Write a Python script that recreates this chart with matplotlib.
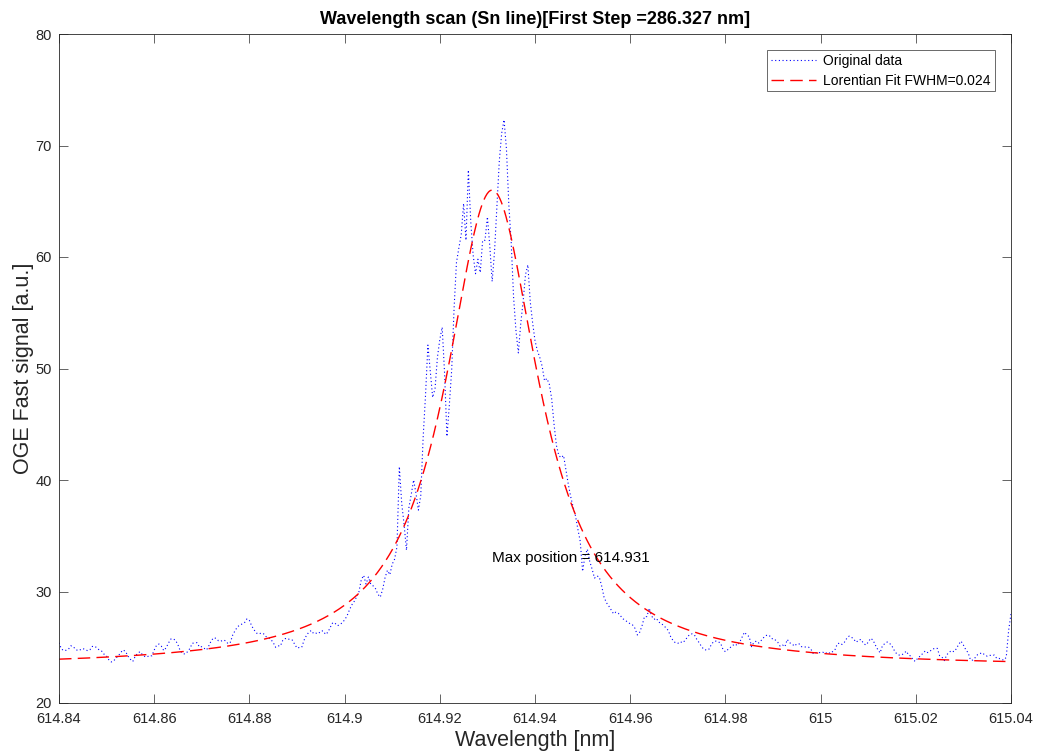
import numpy as np
import matplotlib
matplotlib.use("Agg")
import matplotlib.pyplot as plt

plt.rcParams['font.family'] = ['Liberation Sans', 'DejaVu Sans']

# Scan grid: 614.84 nm to 615.04 nm in 0.0005 nm steps
scan_start = 614.84
scan_step = 0.0005

# OGE fast signal [a.u.], left wing of the line
signal_wing_left = [
    25.4, 24.85, 24.7, 24.73, 24.83, 25.13, 25.05, 24.8, 24.7, 24.78,
    24.88, 24.8, 24.69, 24.78, 25.07, 25.09, 24.93, 24.73, 24.64, 24.36,
    24.2, 23.85, 23.68, 23.78, 24.05, 24.25, 24.55, 24.76, 24.6, 24.2,
    23.92, 23.72, 24.17, 24.45, 24.6, 24.35, 24.18, 24.13, 24.27, 24.23,
    24.75, 25.18, 25.29, 25.1, 24.7, 24.95, 25.38, 25.74, 25.75, 25.62,
    25.2, 24.65, 24.43, 24.39, 24.6, 24.89, 25.35, 25.4, 25.41, 25.02,
    25.05, 24.9, 24.76, 25.15, 25.6, 25.85, 25.8, 25.58, 25.54, 25.65,
    25.58, 25.32, 25.45, 26.1, 26.5, 26.83, 27.0, 27.09, 27.22, 27.55,
    27.4, 26.9, 26.55, 26.27, 26.19, 26.28, 26.2, 25.95, 25.88, 25.7,
    25.43, 25.0, 25.13, 25.11, 25.6, 25.77, 25.8, 25.67, 25.65, 25.28,
    24.93, 24.98, 25.0, 25.65, 26.07, 26.36, 26.5, 26.22, 26.26, 26.22,
    26.45, 26.47, 26.15, 26.35, 26.8, 27.2, 27.15, 26.93, 27.03, 27.2,
    27.45, 27.8, 28.33, 28.79, 29.1, 29.5, 29.95, 31.05, 31.45, 30.67,
    31.3, 30.65, 30.5, 30.25, 29.75, 29.5, 30.2, 31.25, 31.9, 31.5,
    32.45,
]

# Line core
signal_core = [
    32.9, 34.0, 41.2, 37.9, 36.0, 33.7, 37.5, 38.7, 40.0, 38.8,
    37.3, 38.6, 43.8, 47.6, 52.1, 49.7, 47.4, 48.2, 51.0, 52.6,
    53.7, 49.6, 43.9, 46.7, 49.9, 55.4, 59.5, 60.8, 62.0, 64.8,
    61.5, 67.8, 63.2, 60.2, 58.5, 59.8, 58.6, 61.5, 61.5, 63.6,
    61.0, 57.8, 60.5, 64.6, 68.6, 71.1, 72.3, 69.7, 64.7, 61.3,
    56.4, 53.4, 51.4, 54.0, 56.0, 58.4, 59.3, 56.0, 54.1, 52.5,
    51.6, 51.0, 50.2, 48.9, 49.1, 48.6, 47.3, 45.0, 43.1, 42.2,
    42.0, 42.2, 40.9, 39.6, 38.5, 37.6, 36.8, 35.6, 34.5, 31.8,
    33.2, 33.8, 32.7, 32.0, 31.2, 31.4, 31.3, 30.5, 29.5, 29.0,
    28.7, 28.35, 28.0,
]

# Right wing of the line
signal_wing_right = [
    28.15, 28.05, 27.8, 27.55, 27.4, 27.25, 27.1,
    27.0, 26.7, 26.1, 26.35, 26.95, 27.75, 27.75, 28.5, 27.8, 27.5,
    27.6, 27.25, 27.15, 26.95, 26.75, 26.5, 25.95, 25.6, 25.4, 25.35,
    25.5, 25.4, 25.6, 25.9, 26.15, 26.2, 26.1, 25.7, 25.4, 25.05,
    24.8, 24.75, 24.8, 25.2, 25.5, 25.55, 25.5, 25.35, 24.8, 24.6,
    24.78, 24.95, 25.15, 25.3, 25.15, 25.45, 25.9, 26.35, 26.1, 25.95,
    25.05, 25.45, 25.55, 25.38, 25.6, 25.85, 26.05, 26.1, 25.95, 25.68,
    25.65, 25.45, 25.1, 25.2, 25.05, 25.7, 25.4, 25.3, 25.1, 25.3,
    25.3, 25.05, 25.05, 25.0, 25.0, 24.8, 24.4, 24.52, 24.55, 24.5,
    24.55, 24.43, 24.57, 24.45, 24.6, 24.75, 25.3, 25.38, 25.25, 25.45,
    25.8, 26.0, 25.9, 25.7, 25.45, 25.65, 25.7, 25.35, 25.2, 25.45,
    25.8, 25.65, 25.2, 24.8, 24.5, 25.15, 25.33, 25.47, 25.35, 25.1,
    24.7, 24.4, 24.3, 24.3, 24.45, 24.65, 24.3, 24.2, 23.8, 23.75,
    24.1, 24.2, 24.48, 24.67, 24.52, 24.65, 24.83, 24.9, 24.9, 24.25,
    24.12, 23.8, 24.32, 24.55, 24.7, 24.6, 24.85, 25.25, 25.55, 25.2,
    24.78, 24.5, 23.85, 23.85, 24.08, 24.35, 24.44, 24.5, 24.3, 24.2,
    24.28, 24.25, 24.3, 24.0, 24.0, 23.9, 23.85, 24.1, 26.5, 28.0,
]

# Lorentzian fit parameters
fit_center = 614.931
fit_fwhm = 0.024
fit_base = 23.2
fit_peak = 66.0

# Axis ticks
x_ticks = [614.84, 614.86, 614.88, 614.90, 614.92, 614.94, 614.96,
           614.98, 615.00, 615.02, 615.04]
x_tick_labels = ['614.84', '614.86', '614.88', '614.9', '614.92', '614.94',
                 '614.96', '614.98', '615', '615.02', '615.04']
y_ticks = [20, 30, 40, 50, 60, 70, 80]

signal = np.array(signal_wing_left + signal_core + signal_wing_right)
wavelength = scan_start + scan_step * np.arange(signal.size)

wl_fit = np.linspace(x_ticks[0], x_ticks[-1], 1200)
half = fit_fwhm / 2.0
fit = fit_base + (fit_peak - fit_base) / (1.0 + ((wl_fit - fit_center) / half) ** 2)

axis_color = '#262626'

fig = plt.figure(figsize=(10.41, 7.51), dpi=100)
ax = fig.add_axes([59 / 1041, 48 / 751, 952 / 1041, 669 / 751])

ax.plot(wavelength, signal, color='blue', lw=0.8, linestyle=(0, (1, 2.3)),
        label='Original data')
ax.plot(wl_fit, fit, color='red', lw=1.0, linestyle=(0, (9, 4.5)),
        label='Lorentian Fit FWHM=0.024')

ax.text(fit_center, 33.0, 'Max position = 614.931', fontsize=11,
        ha='left', va='center', color='black')

ax.set_xlim(x_ticks[0], x_ticks[-1])
ax.set_ylim(y_ticks[0], y_ticks[-1])
ax.set_xticks(x_ticks)
ax.set_xticklabels(x_tick_labels)
ax.set_yticks(y_ticks)

ax.tick_params(direction='in', length=6.5, width=0.5, top=True, right=True,
               labelsize=10.5, colors=axis_color)
ax.tick_params(axis='x', pad=6.5)
ax.tick_params(axis='y', pad=5)
for sp in ax.spines.values():
    sp.set_linewidth(0.6)
    sp.set_color(axis_color)

ax.set_title('Wavelength scan (Sn line)[First Step =286.327 nm]',
             fontsize=13, fontweight='bold', pad=7.5)
ax.set_xlabel('Wavelength [nm]', fontsize=15.5, color=axis_color, labelpad=3)
ax.set_ylabel('OGE Fast signal [a.u.]', fontsize=15.5, color=axis_color, labelpad=1)

leg = ax.legend(loc='upper right', bbox_to_anchor=(0.983, 0.976),
                borderaxespad=0, fontsize=10, frameon=True, fancybox=False,
                borderpad=0.28, labelspacing=0.4, handlelength=3.3,
                handletextpad=0.5)
leg.get_frame().set_edgecolor(axis_color)
leg.get_frame().set_linewidth(0.6)

fig.savefig('out.png', dpi=100, facecolor='white')
